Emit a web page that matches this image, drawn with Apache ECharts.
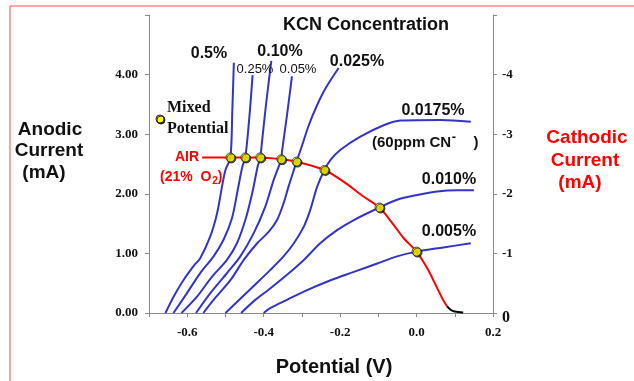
<!DOCTYPE html>
<html>
<head>
<meta charset="utf-8">
<script src="https://cdn.jsdelivr.net/npm/echarts@6/dist/echarts.min.js"></script>
<style>
html, body { margin: 0; padding: 0; background: #fff; }
#chart { width: 634px; height: 381px; }
</style>
</head>
<body>
<div id="chart"></div>
<script>
// Anodic polarization curves (potential in V, current in mA), one per KCN concentration
const concentrations = ['0.5%', '0.25%', '0.10%', '0.05%', '0.025%', '0.0175%', '0.010%', '0.005%'];

const kcn0500 = [[-0.657, 0], [-0.636, 0.27], [-0.610, 0.55], [-0.583, 0.79], [-0.566, 0.92], [-0.540, 1.28], [-0.522, 1.67], [-0.509, 2.12], [-0.500, 2.40], [-0.487, 2.61], [-0.482, 3.40], [-0.478, 4.20]];
const kcn0250 = [[-0.636, 0], [-0.601, 0.33], [-0.566, 0.67], [-0.531, 0.95], [-0.505, 1.23], [-0.483, 1.59], [-0.468, 2.06], [-0.456, 2.45], [-0.448, 2.61], [-0.437, 3.32], [-0.429, 3.99]];
const kcn0100 = [[-0.615, 0], [-0.575, 0.27], [-0.535, 0.61], [-0.496, 0.89], [-0.470, 1.17], [-0.448, 1.56], [-0.430, 2.01], [-0.416, 2.45], [-0.409, 2.61], [-0.406, 2.77], [-0.394, 3.49], [-0.380, 4.23]];
const kcn0050 = [[-0.577, 0], [-0.540, 0.33], [-0.496, 0.67], [-0.461, 0.95], [-0.426, 1.34], [-0.396, 1.78], [-0.374, 2.23], [-0.364, 2.40], [-0.354, 2.58], [-0.352, 2.71], [-0.339, 3.32], [-0.326, 3.97]];
const kcn0025 = [[-0.558, 0], [-0.531, 0.22], [-0.487, 0.55], [-0.452, 0.89], [-0.417, 1.17], [-0.387, 1.36], [-0.365, 1.56], [-0.348, 1.84], [-0.335, 2.12], [-0.321, 2.40], [-0.314, 2.54], [-0.299, 2.82], [-0.282, 3.15], [-0.260, 3.49], [-0.238, 3.77], [-0.204, 4.11]];
const kcn00175 = [[-0.500, 0], [-0.435, 0.40], [-0.383, 0.72], [-0.348, 0.95], [-0.321, 1.17], [-0.295, 1.45], [-0.278, 1.73], [-0.260, 2.12], [-0.241, 2.40], [-0.225, 2.57], [-0.199, 2.74], [-0.147, 2.96], [-0.086, 3.15], [-0.042, 3.23], [0.063, 3.24], [0.142, 3.21]];
const kcn0010 = [[-0.459, 0], [-0.422, 0.22], [-0.383, 0.41], [-0.339, 0.64], [-0.295, 0.89], [-0.252, 1.17], [-0.208, 1.39], [-0.164, 1.56], [-0.097, 1.77], [-0.051, 1.90], [0.002, 1.98], [0.054, 2.04], [0.107, 2.06], [0.150, 2.06]];
const kcn0005 = [[-0.400, 0], [-0.383, 0.08], [-0.339, 0.22], [-0.295, 0.36], [-0.225, 0.55], [-0.164, 0.69], [-0.103, 0.83], [-0.051, 0.95], [0.000, 1.03], [0.070, 1.10], [0.142, 1.17]];

const kcnCurves = [kcn0500, kcn0250, kcn0100, kcn0050, kcn0025, kcn00175, kcn0010, kcn0005];

// Cathodic oxygen-reduction curve in air (21% O2), plotted as magnitude
const airCurve = [[-0.561, 2.61], [-0.487, 2.61], [-0.448, 2.61], [-0.409, 2.61], [-0.354, 2.58], [-0.314, 2.54], [-0.241, 2.40], [-0.190, 2.20], [-0.138, 1.95], [-0.097, 1.77], [-0.060, 1.48], [-0.033, 1.25], [0.000, 1.03], [0.028, 0.75], [0.050, 0.47], [0.067, 0.25], [0.080, 0.11]];
const airTail = [[0.080, 0.11], [0.090, 0.05], [0.100, 0.025], [0.115, 0.012], [0.122, 0.008]];

// Mixed potentials: where each anodic curve crosses the cathodic curve
const mixedPotentials = [[-0.487, 2.61], [-0.448, 2.61], [-0.409, 2.61], [-0.354, 2.58], [-0.314, 2.54], [-0.241, 2.40], [-0.097, 1.77], [0.000, 1.03]];

// Axis ranges
const potentialRange = [-0.7, 0.2];
const anodicRange = [0, 5];
const cathodicRange = [-5, 0];

const BLUE = '#3434c6';
const RED = '#ff0000';
const SANS = '"Liberation Sans", Arial, sans-serif';
const SERIF = '"Liberation Serif", "Times New Roman", serif';

const axisLabelBase = { fontFamily: SERIF, fontWeight: 'bold', fontSize: 13, color: '#111' };
const axisLineBase = { show: true, onZero: false, lineStyle: { color: '#8a8a8a', width: 1 } };
const axisTickBase = { show: true, inside: false, length: 4, lineStyle: { color: '#8a8a8a', width: 1 } };

function txt(text, x, y, font, fill, align) {
  return {
    type: 'text', x: x, y: y, z: 100,
    style: { text: text, font: font, fill: fill || '#111', align: align || 'center', verticalAlign: 'middle' }
  };
}

const series = kcnCurves.map((d, i) => ({
  name: concentrations[i],
  type: 'line',
  data: d,
  smooth: 0.3,
  symbol: 'none',
  lineStyle: { color: BLUE, width: 2 },
  z: 2
}));

series.push({
  name: 'AIR', type: 'line', data: airCurve, smooth: 0.3, symbol: 'none',
  lineStyle: { color: RED, width: 2 }, z: 3
});
series.push({
  name: 'tail', type: 'line', data: airTail, smooth: 0.4, symbol: 'none',
  lineStyle: { color: '#000', width: 2 }, z: 3
});
series.push({
  name: 'Mixed Potential', type: 'scatter', data: mixedPotentials, symbolSize: 9,
  itemStyle: { color: '#ffff00', borderColor: '#222', borderWidth: 1,
    shadowColor: 'rgba(0,0,0,0.8)', shadowOffsetX: 1, shadowOffsetY: 1, shadowBlur: 0 },
  z: 5
});

const chart = echarts.init(document.getElementById('chart'), null, { renderer: 'canvas' });

chart.setOption({
  animation: false,
  backgroundColor: '#fff',
  grid: { left: 149, right: 141, top: 15, bottom: 68, containLabel: false },
  xAxis: {
    type: 'value', min: potentialRange[0], max: potentialRange[1], interval: 0.1,
    axisLine: axisLineBase, axisTick: axisTickBase, splitLine: { show: false },
    axisLabel: Object.assign({}, axisLabelBase, {
      margin: 13,
      formatter: v => (Math.round(v * 10) % 2 === 0 ? v.toFixed(1) : '')
    })
  },
  yAxis: [
    {
      type: 'value', position: 'left', min: anodicRange[0], max: anodicRange[1], interval: 1,
      axisLine: axisLineBase, axisTick: axisTickBase, splitLine: { show: false },
      axisLabel: Object.assign({}, axisLabelBase, {
        margin: 11,
        formatter: v => (v === anodicRange[1] ? '' : v.toFixed(2))
      })
    },
    {
      type: 'value', position: 'right', min: cathodicRange[0], max: cathodicRange[1], interval: 1,
      inverse: true,
      axisLine: axisLineBase, axisTick: axisTickBase, splitLine: { show: false },
      axisLabel: Object.assign({}, axisLabelBase, {
        margin: 9,
        formatter: v => (v === cathodicRange[0] ? '' : (v === 0 ? '{z|0}' : String(v))),
        rich: { z: { fontFamily: SERIF, fontWeight: 'bold', fontSize: 16, color: '#111', padding: [10, 0, 0, 0] } }
      })
    }
  ],
  series: series,
  graphic: [
    // frame lines
    { type: 'line', z: 0, shape: { x1: 10, y1: 6, x2: 634, y2: 6 }, style: { stroke: '#ff4a4a', lineWidth: 1 } },
    { type: 'line', z: 0, shape: { x1: 10, y1: 6, x2: 10, y2: 381 }, style: { stroke: '#ff4a4a', lineWidth: 1 } },

    txt('KCN Concentration', 366, 25, 'bold 18px ' + SANS),
    txt('Potential (V)', 334, 367, 'bold 20px ' + SANS),

    txt('Anodic', 50, 130, 'bold 19px ' + SANS),
    txt('Current', 49, 151, 'bold 19px ' + SANS),
    txt('(mA)', 44, 173, 'bold 19px ' + SANS),

    txt('Cathodic', 587, 138, 'bold 19px ' + SANS, RED),
    txt('Current', 585, 161, 'bold 19px ' + SANS, RED),
    txt('(mA)', 580, 183, 'bold 19px ' + SANS, RED),

    // concentration labels
    txt(concentrations[0], 209, 54, 'bold 16px ' + SANS),
    txt(concentrations[1], 255, 69, '13px ' + SANS),
    txt(concentrations[2], 280, 52, 'bold 16px ' + SANS),
    txt(concentrations[3], 298, 69, '13px ' + SANS),
    txt(concentrations[4], 357, 62, 'bold 16px ' + SANS),
    txt(concentrations[5], 433, 111, 'bold 16px ' + SANS),
    txt(concentrations[6], 449, 180, 'bold 16px ' + SANS),
    txt(concentrations[7], 449, 232, 'bold 16px ' + SANS),

    txt('(60ppm CN', 372, 143, 'bold 15px ' + SANS, '#111', 'left'),
    txt('-', 454, 137, 'bold 13px ' + SANS, '#111'),
    txt(')', 476, 143, 'bold 15px ' + SANS, '#111'),

    txt('AIR', 199, 157, 'bold 14px ' + SANS, RED, 'right'),
    txt('(21%  O', 160, 177, 'bold 14px ' + SANS, RED, 'left'),
    txt('2', 215, 181, 'bold 10px ' + SANS, RED),
    txt(')', 220, 177, 'bold 14px ' + SANS, RED),

    // key for the yellow markers
    { type: 'circle', z: 100, shape: { cx: 160, cy: 119, r: 4 },
      style: { fill: '#ffff00', stroke: '#222', lineWidth: 1, shadowColor: 'rgba(0,0,0,0.8)', shadowOffsetX: 1, shadowOffsetY: 1 } },
    txt('Mixed', 167, 108, 'bold 16px ' + SERIF, '#111', 'left'),
    txt('Potential', 167, 129, 'bold 16px ' + SERIF, '#111', 'left')
  ]
});
</script>
</body>
</html>
